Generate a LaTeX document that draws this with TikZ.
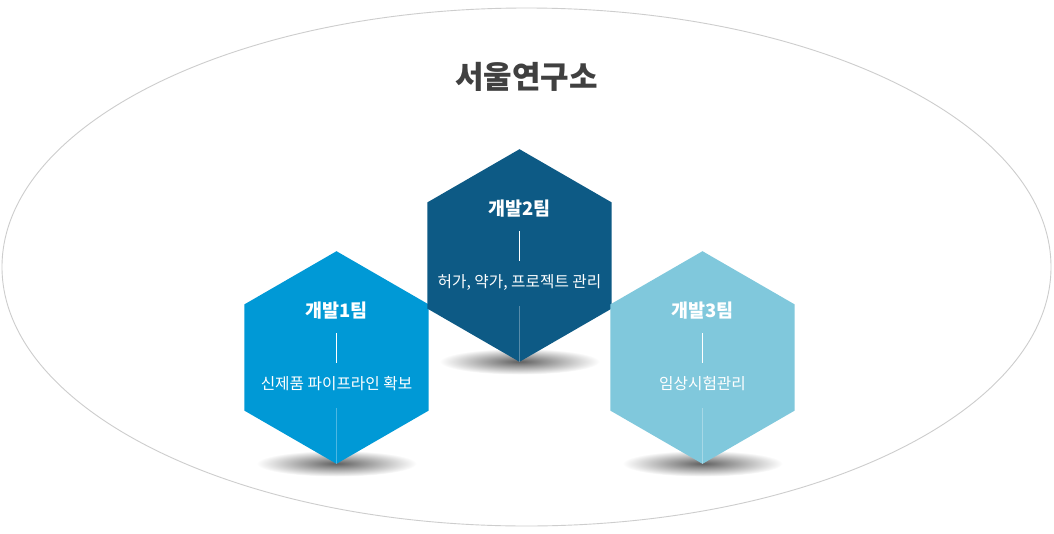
\documentclass[tikz,border=0pt]{standalone}
\usepackage{fontspec}
\setmainfont{Noto Sans CJK KR}
\definecolor{hexone}{RGB}{0,153,214}
\definecolor{hextwo}{RGB}{13,90,133}
\definecolor{hexthree}{RGB}{128,200,220}
\definecolor{titlegray}{RGB}{64,64,64}
\definecolor{ringgray}{RGB}{205,205,205}
\tikzset{
  teamtitle/.style={text=white, font=\fontsize{18.5}{22}\selectfont\bfseries, inner sep=0pt},
  teamtask/.style={text=white, font=\fontsize{15.7}{18}\selectfont, inner sep=0pt},
  sepline/.style={draw=white, line width=1pt},
  faintline/.style={draw=white, draw opacity=0.3, line width=1pt},
  hexshadow/.style={inner color=black!62, outer color=white}
}
\begin{document}
\begin{tikzpicture}[x=1pt,y=-1pt]
\useasboundingbox (0,0) rectangle (1054,533);
\fill[white] (0,0) rectangle (1054,533);
% outer ellipse
\draw[ringgray, line width=0.9pt] (526.5,267) ellipse [x radius=524.5, y radius=259];
\node[text=titlegray, font=\fontsize{31}{35}\selectfont\bfseries, inner sep=0pt] (lab) at (526.5,77) {서울연구소};
% hexagons: centre, colour, title, task
\foreach \cx/\cy/\col/\ttl/\tsk/\nm in {336.5/357.5/hexone/개발1팀/신제품 파이프라인 확보/a,
                                  519.5/255.5/hextwo/개발2팀/{허가, 약가, 프로젝트 관리}/b,
                                  702.5/357.5/hexthree/개발3팀/임상시험관리/c}{
  \shade[hexshadow] (\cx,\cy+106) ellipse [x radius=80, y radius=13];
  \fill[\col] (\cx,\cy) +(90:106.3) -- +(150:106.3) -- +(210:106.3) -- +(270:106.3) -- +(330:106.3) -- +(30:106.3) -- cycle;
  \node[teamtitle] (t\nm) at (\cx,\cy-46.5) {\ttl};
  \coordinate (la\nm) at (\cx,\cy-24.5);
  \coordinate (lb\nm) at (\cx,\cy+5.5);
  \draw[sepline] (la\nm) -- (lb\nm);
  \node[teamtask] (s\nm) at (\cx,\cy+26.5) {\tsk};
  \coordinate (fa\nm) at (\cx,\cy+50.5);
  \coordinate (fb\nm) at (\cx,\cy+106.3);
  \draw[faintline] (fa\nm) -- (fb\nm);
}
\end{tikzpicture}
\end{document}
